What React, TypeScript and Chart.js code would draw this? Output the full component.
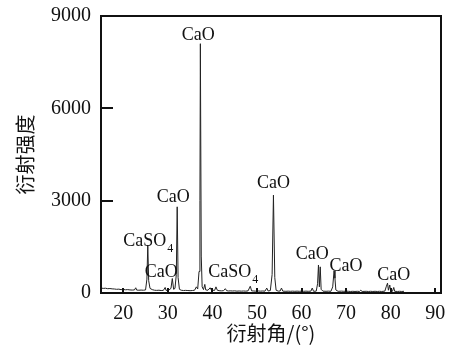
import React, { useEffect, useRef } from "react";
import { Chart, registerables } from "chart.js";

Chart.register(...registerables);

const angles = [
  15, 15.5, 16, 16.5, 17, 17.5, 18, 18.5, 19, 19.5, 20, 20.5, 21, 21.5, 22, 22.5, 22.8, 23.0, 23.5, 24, 24.5,
  25.0, 25.3, 25.5, 25.7, 26.0, 26.5, 27, 27.5, 28, 28.5, 29, 29.4, 29.6, 30.2, 30.7, 31.0, 31.3, 31.6, 31.9,
  32.1, 32.3, 32.6, 33, 33.5, 34, 34.5, 35, 35.5, 36.0, 36.4, 36.7, 37.0, 37.2, 37.3, 37.5, 37.7, 38.0, 38.3,
  38.5, 39.0, 39.5, 39.8, 40.5, 40.8, 41.1, 41.5, 42, 42.5, 42.9, 43.2, 43.6, 44, 44.5, 45, 45.5, 46, 46.5,
  47, 47.5, 48.0, 48.5, 48.8, 49.3, 49.7, 50.3, 50.8, 51.3, 51.8, 52.2, 52.5, 53.0, 53.4, 53.7, 54.0, 54.3,
  54.8, 55.2, 55.5, 55.8, 56.5, 57, 57.5, 58, 58.5, 59, 59.5, 60, 60.5, 61, 61.5, 62.1, 62.4, 62.7, 63.3,
  63.6, 63.8, 64.0, 64.2, 64.4, 64.8, 65.5, 66, 66.6, 67.0, 67.3, 67.5, 67.7, 68.2, 69, 69.5, 70.1, 70.5,
  71, 71.5, 72, 72.5, 73.0, 73.3, 73.6, 74.5, 75, 75.5, 76, 76.5, 77, 77.5, 78, 78.7, 79.0, 79.3, 79.5,
  79.8, 80.0, 80.4, 80.7, 80.9, 81.5, 82, 82.5, 83,
];
const intensities = [
  160, 150, 155, 140, 145, 135, 130, 120, 125, 110, 115, 105, 110, 100, 95, 100, 170, 95, 90, 95, 90,
  100, 450, 1560, 400, 150, 110, 90, 85, 90, 80, 85, 180, 85, 90, 150, 470, 120, 150, 600,
  2800, 500, 120, 90, 80, 85, 80, 75, 80, 90, 200, 130, 700, 3000, 8100, 1200, 200, 110, 280,
  100, 90, 170, 90, 85, 200, 90, 75, 70, 75, 140, 75, 65, 70, 65, 70, 60, 65, 60,
  65, 60, 70, 220, 70, 65, 60, 65, 60, 65, 60, 160, 65, 80, 600, 3180, 500, 90,
  60, 65, 160, 60, 55, 60, 55, 60, 55, 60, 55, 60, 55, 60, 55, 60, 160, 55, 60,
  300, 910, 200, 850, 120, 60, 55, 60, 55, 200, 720, 480, 100, 55, 60, 55, 60, 55,
  50, 55, 50, 55, 50, 90, 50, 55, 50, 55, 50, 55, 50, 55, 50, 60, 200, 320, 90,
  260, 70, 55, 180, 55, 50, 55, 50, 55,
];

const xTickValues = [20, 30, 40, 50, 60, 70, 80, 90];
const yTickValues = [0, 3000, 6000, 9000];

// phase labels: main text, subscript, anchor angle, anchor intensity (baseline)
const phaseNames = ["CaO", "CaO", "CaSO", "CaO", "CaSO", "CaO", "CaO", "CaO", "CaO"];
const phaseSubs = ["", "", "4", "", "4", "", "", "", ""];
const phaseAngles = [36.8, 31.2, 25.6, 28.5, 44.7, 53.7, 62.4, 70.0, 80.7];
const phaseIntensities = [8210, 2950, 1525, 520, 520, 3400, 1100, 720, 420];

const xTitle = "衍射角/(°)";
const yTitle = "衍射强度";

const SERIF = '"Liberation Serif", "Times New Roman", serif';
const CJK = '"Noto Sans CJK SC", "Noto Sans", sans-serif';

const overlayPlugin = {
  id: "overlay",
  afterDraw(chart: any) {
    const { ctx, chartArea, scales } = chart;
    const { left, right, top, bottom } = chartArea;
    const x = scales.x;
    const y = scales.y;
    ctx.save();
    ctx.strokeStyle = "#111";
    ctx.lineWidth = 2;
    ctx.strokeRect(left, top, right - left, bottom - top);
    ctx.beginPath();
    yTickValues.forEach((v) => {
      const py = Math.round(y.getPixelForValue(v));
      ctx.moveTo(left, py);
      ctx.lineTo(left + 12, py);
    });
    xTickValues.forEach((v) => {
      const px = Math.round(x.getPixelForValue(v));
      ctx.moveTo(px, bottom);
      ctx.lineTo(px, bottom - 5);
    });
    ctx.stroke();

    ctx.fillStyle = "#111";
    ctx.textBaseline = "alphabetic";
    ctx.textAlign = "left";
    phaseNames.forEach((name, i) => {
      const sub = phaseSubs[i];
      ctx.font = `18px ${SERIF}`;
      const mw = ctx.measureText(name).width;
      ctx.font = `12px ${SERIF}`;
      const sw = sub ? ctx.measureText(sub).width + 1 : 0;
      const cx = x.getPixelForValue(phaseAngles[i]);
      const by = y.getPixelForValue(phaseIntensities[i]);
      const sx = cx - (mw + sw) / 2;
      ctx.font = `18px ${SERIF}`;
      ctx.fillText(name, sx, by);
      if (sub) {
        ctx.font = `12px ${SERIF}`;
        ctx.fillText(sub, sx + mw + 1, by + 6);
      }
    });
    ctx.restore();
  },
};

export default function App() {
  const ref = useRef<HTMLCanvasElement>(null);

  useEffect(() => {
    if (!ref.current) return;
    const points = angles.map((a, i) => ({ x: a, y: intensities[i] }));
    const chart = new Chart(ref.current, {
      type: "line",
      data: {
        datasets: [
          {
            data: points,
            borderColor: "#222",
            borderWidth: 1,
            pointRadius: 0,
            tension: 0,
            fill: false,
          },
        ],
      },
      options: {
        animation: false,
        responsive: false,
        devicePixelRatio: 1,
        parsing: false as any,
        layout: { padding: { left: 0, right: 18, top: 16, bottom: 0 } },
        plugins: { legend: { display: false }, tooltip: { enabled: false } },
        scales: {
          x: {
            type: "linear",
            min: 15,
            max: 91.3,
            grid: { display: false, drawTicks: false },
            border: { display: false },
            ticks: {
              color: "#111",
              padding: 9,
              font: { family: SERIF, size: 20 },
              callback: (v: any) => String(v),
            },
            afterBuildTicks: (scale: any) => {
              scale.ticks = xTickValues.map((v) => ({ value: v }));
            },
            afterFit: (scale: any) => {
              scale.height = 55;
              scale.paddingLeft = 0;
              scale.paddingRight = 0;
            },
            title: {
              display: true,
              text: xTitle,
              color: "#111",
              font: { family: CJK, size: 20 },
              padding: { top: 0, bottom: 3 },
            },
          },
          y: {
            type: "linear",
            min: 0,
            max: 9000,
            grid: { display: false, drawTicks: false },
            border: { display: false },
            ticks: {
              color: "#111",
              padding: 10,
              font: { family: SERIF, size: 20 },
              callback: (v: any) => String(v),
            },
            afterBuildTicks: (scale: any) => {
              scale.ticks = yTickValues.map((v) => ({ value: v }));
            },
            afterFit: (scale: any) => {
              scale.width = 101;
              scale.paddingTop = 0;
              scale.paddingBottom = 0;
            },
            title: {
              display: true,
              text: yTitle,
              color: "#111",
              font: { family: CJK, size: 20 },
              padding: { top: 13, bottom: 0 },
            },
          },
        },
      },
      plugins: [overlayPlugin],
    });
    return () => chart.destroy();
  }, []);

  return (
    <div style={{ position: "absolute", left: 0, top: 0, width: 459, height: 348, background: "#fff" }}>
      <canvas ref={ref} width={459} height={348} />
    </div>
  );
}
